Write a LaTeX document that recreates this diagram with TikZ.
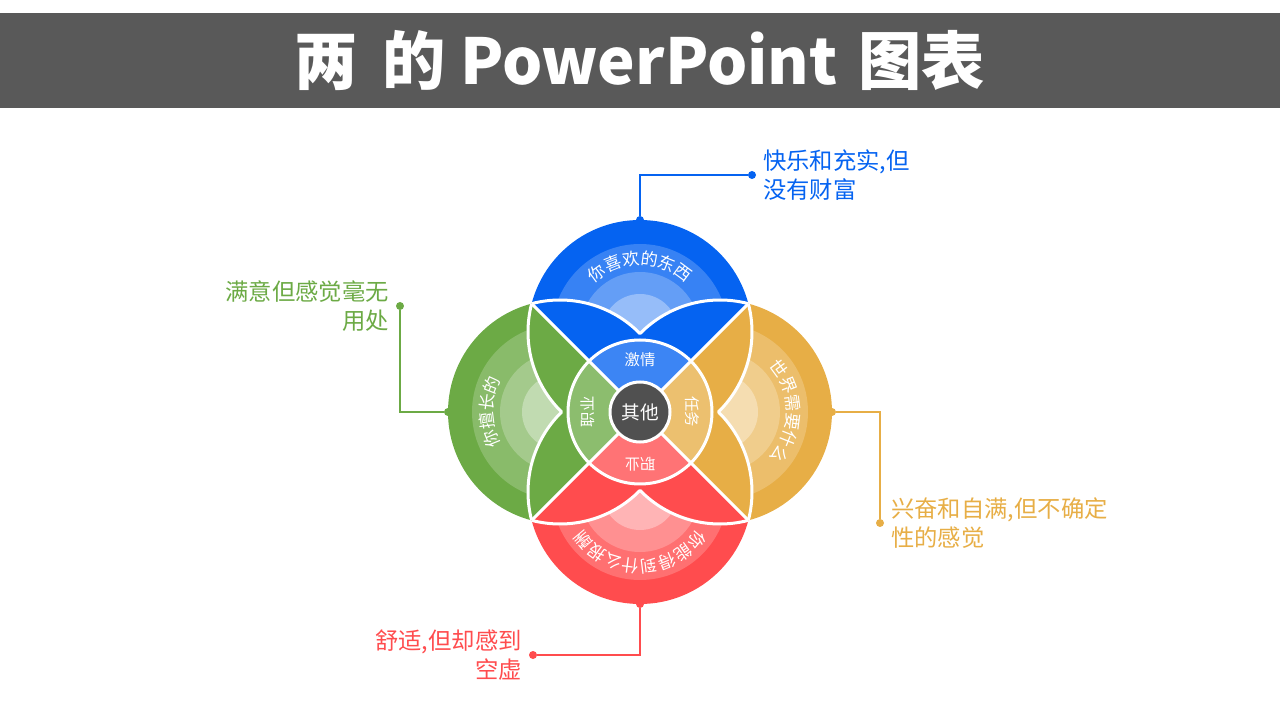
\documentclass[tikz,border=0pt]{standalone}
\usepackage{fontspec}
\setmainfont{Noto Sans CJK SC}
\usetikzlibrary{positioning,calc,decorations.text}
\definecolor{cHead}{HTML}{595959}
\definecolor{cBlue}{HTML}{0563F1}
\definecolor{cGreen}{HTML}{6CAA45}
\definecolor{cYellow}{HTML}{E7AE46}
\definecolor{cRed}{HTML}{FF4C4E}
\definecolor{cOther}{HTML}{505050}

\begin{document}
\begin{tikzpicture}[x=0.75pt, y=0.75pt,
	wline/.style={white, line width=2.25pt, line join=round},
	dot/.style={circle, fill=#1, inner sep=0pt, minimum size=6pt},
	link/.style={draw=#1, line width=1.5pt},
	note/.style={text=#1, inner sep=0pt, font=\fontsize{17.5}{21.75}\selectfont},
	inner/.style={white, inner sep=0pt, font=\fontsize{11.5}{13}\selectfont},
	petal/.style={decorate, decoration={text along path, text align=center, text color=white, text={|\fontsize{12.75}{14}\selectfont|#1}}}]
	\useasboundingbox (-640, -308) rectangle (640, 412);
	\node[fill=cHead, minimum width=960pt, minimum height=71.25pt, text=white, font=\fontsize{47.5}{50}\selectfont\bfseries] (title) at (0, 351.5) {两\hspace{0.15em} 的 PowerPoint\hspace{0.1em} 图表};
	\coordinate (pB) at (90:80);
	\coordinate (pG) at (180:80);
	\coordinate (pR) at (270:80);
	\coordinate (pY) at (0:80);
	\foreach \a/\c in {90/cBlue, 180/cGreen, 270/cRed, 0/cYellow} {
		\begin{scope}
			\clip (0, 0) -- (\a+45:300) -- (\a-45:300) -- cycle;
			\fill[\c] (\a:80) circle[radius=112];
			\fill[\c!80!white] (\a:80) circle[radius=88];
			\fill[\c!62!white] (\a:80) circle[radius=60];
			\fill[\c!42!white] (\a:80) circle[radius=38];
			\fill[\c] (\a+90:80) circle[radius=112] (\a-90:80) circle[radius=112];
			\fill[\c!78!white] (0, 0) circle[radius=72];
		\end{scope}
	}
	\draw[wline] (45:153.2) -- (225:153.2);
	\draw[wline] (135:153.2) -- (315:153.2);
	\foreach \a in {0, 90, 180, 270}
		\draw[wline] (\a+45:153.23) arc[start angle=\a+14.66, end angle=\a-45.59, radius=112] arc[start angle=\a+45.59, end angle=\a-14.66, radius=112];
	\draw[wline] (0, 0) circle[radius=72];
	\node[circle, fill=cOther, draw=white, line width=2.25pt, minimum size=45pt, text=white, font=\fontsize{14}{16}\selectfont] (other) at (0, 0) {其他};
	\node[inner] (passion) at (90:52) {激情};
	\node[inner, rotate=90] (profession) at (180:52) {职业};
	\node[inner, rotate=180] (vocation) at (270:52) {职业};
	\node[inner, rotate=-90] (mission) at (0:52) {任务};
	\path[petal={你喜欢的东西}] ($(pB)+(160:67)$) arc[start angle=160, end angle=20, radius=67];
	\path[petal={你擅长的}] ($(pG)+(250:67)$) arc[start angle=250, end angle=110, radius=67];
	\path[petal={你能得到什么报酬}] ($(pR)+(345:68)$) arc[start angle=345, end angle=195, radius=68];
	\path[petal={世界需要什么}] ($(pY)+(70:67)$) arc[start angle=70, end angle=-70, radius=67];
	\node[dot=cBlue] (bA) at (0, 192) {};
	\node[dot=cBlue] (bB) at (112, 237) {};
	\draw[link=cBlue] (bA) |- (bB);
	\node[note=cBlue, align=left, right=5pt of bB] (bNote) {快乐和充实,但\\没有财富};
	\node[dot=cGreen] (gA) at (-192, 0) {};
	\node[dot=cGreen] (gB) at (-240, 106) {};
	\draw[link=cGreen] (gA) -| (gB);
	\node[note=cGreen, align=right, left=5pt of gB] (gNote) {满意但感觉毫无\\用处};
	\node[dot=cYellow] (yA) at (192, 0) {};
	\node[dot=cYellow] (yB) at (240, -111) {};
	\draw[link=cYellow] (yA) -| (yB);
	\node[note=cYellow, align=left, right=5pt of yB] (yNote) {兴奋和自满,但不确定\\性的感觉};
	\node[dot=cRed] (rA) at (0, -192) {};
	\node[dot=cRed] (rB) at (-107, -243) {};
	\draw[link=cRed] (rA) |- (rB);
	\node[note=cRed, align=right, left=5pt of rB] (rNote) {舒适,但却感到\\空虚};
\end{tikzpicture}
\end{document}
